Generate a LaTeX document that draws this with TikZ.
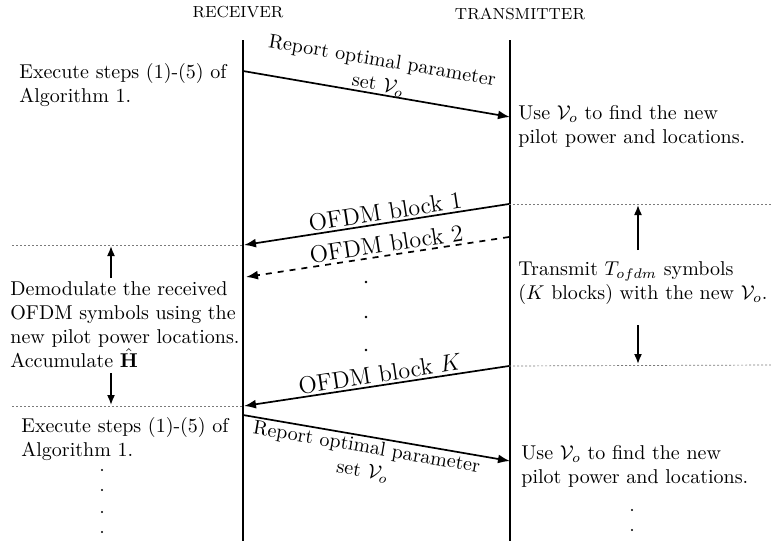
\documentclass[tikz,border=0pt]{standalone}
\usepackage{tikz}
\usetikzlibrary{arrows.meta, positioning, calc}
\definecolor{guidegray}{HTML}{7A7A7A}

\begin{document}
\begin{tikzpicture}[x=0.5pt, y=-0.5pt,
    lifeline/.style={line width=1.1pt},
    msg/.style={-{Latex[length=6pt, width=4.5pt]}, line width=0.85pt},
    span/.style={-{Latex[length=5pt, width=4pt]}, line width=0.8pt},
    guide/.style={densely dashed, dash pattern=on 1pt off 1pt, guidegray, line width=0.35pt},
    note/.style={align=left, anchor=west, inner sep=0pt},
    party/.style={font=\footnotesize, inner sep=0pt}]
    \useasboundingbox (0,0) rectangle (771,541);

    % Parties and life lines
    \node[party] (rxname) at (238,12) {RECEIVER};
    \node[party] (txname) at (520,14) {TRANSMITTER};
    \coordinate (rxtop) at (243,40);
    \coordinate (rxbot) at (243,541);
    \coordinate (txtop) at (510,40);
    \coordinate (txbot) at (510,541);
    \draw[lifeline] (rxtop) -- (rxbot);
    \draw[lifeline] (txtop) -- (txbot);

    % First feedback
    \coordinate (rep1s) at (243,71);
    \coordinate (rep1e) at (510,117);
    \draw[msg] (rep1s) -- node[pos=0.5, above, sloped, align=center, inner sep=0pt] {Report optimal parameter\\set $\mathcal{V}_o$} (rep1e);
    \node[note] (exec1) at (19,85) {Execute steps (1)-(5) of\\Algorithm 1.};
    \node[note] (use1) at (518,126) {Use $\mathcal{V}_o$ to find the new\\pilot power and locations.};

    % OFDM blocks
    \coordinate (blk1s) at (509,204);
    \coordinate (blk1e) at (244,245);
    \coordinate (blk2s) at (509,237);
    \coordinate (blk2e) at (246,277);
    \coordinate (blkKs) at (509,366);
    \coordinate (blkKe) at (244,406);
    \draw[msg] (blk1s) -- node[pos=0.46, above, sloped, font=\large, inner sep=1pt] {OFDM block 1} (blk1e);
    \draw[msg, dashed] (blk2s) -- node[pos=0.46, above, sloped, font=\large, inner sep=1pt] {OFDM block 2} (blk2e);
    \draw[msg] (blkKs) -- node[pos=0.48, above, sloped, font=\large, inner sep=1pt] {OFDM block $K$} (blkKe);
    \foreach \y in {282,317,350}
        \fill (366,\y) circle (1.3);

    % Guide lines for the block interval
    \coordinate (lgtop) at (12,245);
    \coordinate (lgbot) at (12,406);
    \coordinate (rgtop) at (771,204);
    \coordinate (rgbot) at (771,365);
    \draw[guide] (lgtop) -- (blk1e);
    \draw[guide] (lgbot) -- (blkKe);
    \draw[guide] (blk1s) -- (rgtop);
    \draw[guide] (blkKs) -- (rgbot);

    % Receiver side of the interval
    \node[note] (demod) at (10,325) {Demodulate the received\\OFDM symbols using the\\new pilot power locations.\\Accumulate $\hat{\mathbf{H}}$};
    \draw[span] (111,278) -- (111,246);
    \draw[span] (111,373) -- (111,405);

    % Transmitter side of the interval
    \node[note] (txmit) at (518,283) {Transmit $T_{ofdm}$ symbols\\($K$ blocks) with the new $\mathcal{V}_o$.};
    \draw[span] (638,250) -- (638,205);
    \draw[span] (638,325) -- (638,364);

    % Second feedback
    \coordinate (rep2s) at (243,415);
    \coordinate (rep2e) at (510,461);
    \draw[msg] (rep2s) -- node[pos=0.47, below, sloped, align=center, inner sep=1pt] {Report optimal parameter\\set $\mathcal{V}_o$} (rep2e);
    \node[note] (exec2) at (21,439) {Execute steps (1)-(5) of\\Algorithm 1.};
    \node[note] (use2) at (521,466) {Use $\mathcal{V}_o$ to find the new\\pilot power and locations.};
    \foreach \y in {470,490,512,532}
        \fill (102,\y) circle (1.1);
    \foreach \y in {510,530}
        \fill (632,\y) circle (1.1);
\end{tikzpicture}
\end{document}
